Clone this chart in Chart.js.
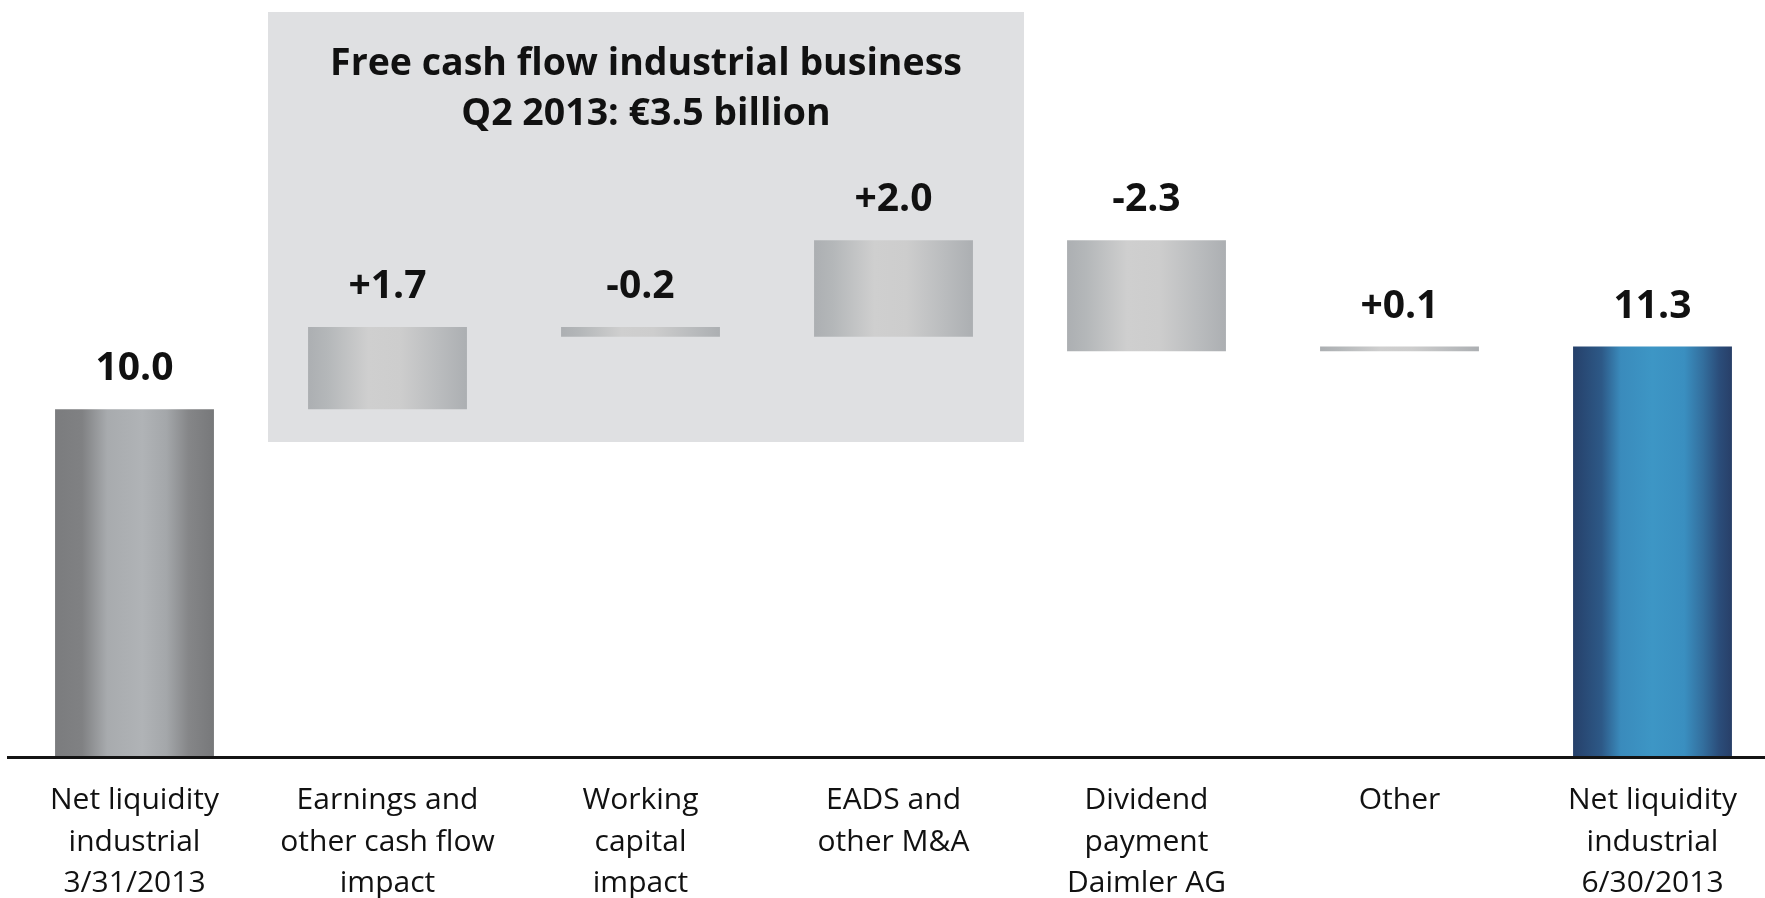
<!DOCTYPE html>
<html>
<head>
<meta charset="utf-8">
<title>Net liquidity industrial business Q2 2013</title>
<script src="https://cdn.jsdelivr.net/npm/chart.js@4.4.1/dist/chart.umd.min.js"></script>
<style>
  html, body { margin: 0; padding: 0; background: #ffffff; overflow: hidden; }
  #wrap { width: 1790px; height: 898px; }
  canvas { display: block; }
</style>
</head>
<body>
<div id="wrap"><canvas id="chart" width="1790" height="898"></canvas></div>
<script>
// Net liquidity bridge, in billions of euros
const categories = [
  ['Net liquidity', 'industrial', '3/31/2013'],
  ['Earnings and', 'other cash flow', 'impact'],
  ['Working', 'capital', 'impact'],
  ['EADS and', 'other M&A'],
  ['Dividend', 'payment', 'Daimler AG'],
  ['Other'],
  ['Net liquidity', 'industrial', '6/30/2013']
];
const amounts = [10.0, 1.7, -0.2, 2.0, -2.3, 0.1, 11.3];
const barKinds = ['start', 'step', 'step', 'step', 'step', 'step', 'end'];
const boxTitle = ['Free cash flow industrial business', 'Q2 2013: \u20ac3.5 billion'];

// Floating ranges for the waterfall: totals rise from zero, steps from the running total
const ranges = [];
let running = 0;
amounts.forEach((v, i) => {
  if (barKinds[i] === 'step') {
    ranges.push([running, running + v]);
    running += v;
  } else {
    ranges.push([0, v]);
    running = v;
  }
});
const valueLabels = amounts.map((v, i) =>
  barKinds[i] === 'step' ? (v > 0 ? '+' : '') + v.toFixed(1) : v.toFixed(1));

const FONT = "'Open Sans', 'Noto Sans', 'DejaVu Sans', sans-serif";
const BAR_PCT = 0.628;

const gradientStops = {
  start: [[0, '#7b7c7e'], [0.17, '#808183'], [0.33, '#a8abae'], [0.55, '#b0b3b6'],
          [0.7, '#a4a7aa'], [0.84, '#858688'], [1, '#77787a']],
  step:  [[0, '#acafb2'], [0.12, '#b4b7b9'], [0.38, '#cfcfcf'], [0.58, '#cdcdcd'],
          [0.82, '#babcbe'], [1, '#acafb2']],
  end:   [[0, '#26406a'], [0.18, '#2d5987'], [0.3, '#3a8bbc'], [0.5, '#3d96c5'],
          [0.7, '#3a8fc0'], [0.82, '#336e9d'], [0.92, '#2b4d7a'], [1, '#283f68']]
};

function barFill(ctx) {
  const chart = ctx.chart;
  const xs = chart.scales.x;
  const i = ctx.dataIndex;
  const stops = gradientStops[barKinds[i]] || gradientStops.step;
  if (!xs || !chart.chartArea) return stops[3][1];
  const cx = xs.getPixelForValue(i);
  const w = xs.width / categories.length * BAR_PCT;
  const g = chart.ctx.createLinearGradient(cx - w / 2, 0, cx + w / 2, 0);
  stops.forEach(([o, c]) => g.addColorStop(o, c));
  return g;
}

// Shaded panel behind the free-cash-flow steps, with its heading
const panelPlugin = {
  id: 'fcfPanel',
  beforeDatasetsDraw(chart) {
    const { ctx } = chart;
    const xs = chart.scales.x;
    const left = xs.getPixelForValue(1) - 119.5;
    const right = xs.getPixelForValue(3) + 130.5;
    ctx.save();
    ctx.fillStyle = '#dfe0e2';
    ctx.fillRect(left, 12, right - left, 430);
    ctx.fillStyle = '#111111';
    ctx.font = 'bold 37.5px ' + FONT;
    ctx.textAlign = 'center';
    ctx.textBaseline = 'middle';
    const cx = (left + right) / 2;
    ctx.fillText(boxTitle[0], cx, 64);
    ctx.fillText(boxTitle[1], cx, 114);
    ctx.restore();
  }
};

// Value above each bar
const valuePlugin = {
  id: 'barValues',
  afterDatasetsDraw(chart) {
    const { ctx } = chart;
    const meta = chart.getDatasetMeta(0);
    ctx.save();
    ctx.fillStyle = '#111111';
    ctx.font = 'bold 39px ' + FONT;
    ctx.textAlign = 'center';
    ctx.textBaseline = 'middle';
    meta.data.forEach((bar, i) => {
      const p = bar.getProps(['x', 'y', 'base'], true);
      const top = Math.min(p.y, p.base);
      ctx.fillText(valueLabels[i], p.x, top - 40);
    });
    ctx.restore();
  }
};

new Chart(document.getElementById('chart'), {
  type: 'bar',
  data: {
    labels: categories,
    datasets: [{
      data: ranges,
      backgroundColor: barFill,
      borderWidth: 0,
      categoryPercentage: 1,
      barPercentage: BAR_PCT,
      clip: 0
    }]
  },
  options: {
    responsive: false,
    devicePixelRatio: 1,
    animation: false,
    events: [],
    layout: { padding: { left: 8, right: 11, top: 0, bottom: 0 } },
    plugins: { legend: { display: false }, tooltip: { enabled: false } },
    scales: {
      x: {
        grid: { display: false, drawTicks: false, tickLength: 0 },
        border: { display: true, color: '#141414', width: 3, z: 1 },
        ticks: {
          autoSkip: false,
          maxRotation: 0,
          minRotation: 0,
          padding: 23,
          color: '#111111',
          font: { family: FONT, size: 30, lineHeight: 1.383 }
        },
        afterFit(scale) { scale.height = 141; }
      },
      y: {
        display: false,
        min: 2.79,
        max: 18.48
      }
    }
  },
  plugins: [panelPlugin, valuePlugin]
});
</script>
</body>
</html>
